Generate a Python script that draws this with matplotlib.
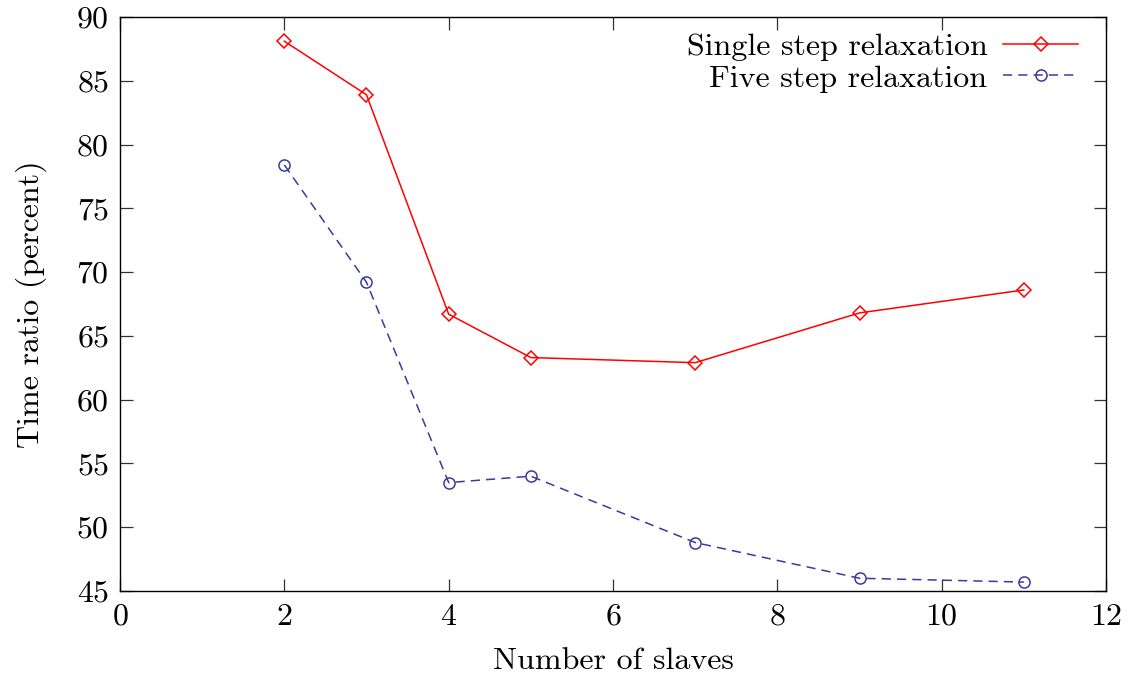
import matplotlib
matplotlib.use("Agg")
import matplotlib.pyplot as plt

# Measurements: relative run time versus number of slave processes
slaves = [2, 3, 4, 5, 7, 9, 11]
single_step = [88.1, 83.9, 66.7, 63.3, 62.9, 66.8, 68.6]
five_step = [78.4, 69.2, 53.5, 54.0, 48.8, 46.0, 45.7]

x_ticks = [0, 2, 4, 6, 8, 10, 12]
y_ticks = [45, 50, 55, 60, 65, 70, 75, 80, 85, 90]

plt.rcParams["font.family"] = ["cmr10", "DejaVu Serif"]
plt.rcParams["mathtext.fontset"] = "cm"
plt.rcParams["axes.formatter.use_mathtext"] = True

FS = 23

fig = plt.figure(figsize=(11.33, 6.79), dpi=100)
ax = fig.add_axes([0.1059, 0.1296, 0.9762 - 0.1059, 0.975 - 0.1296])

ax.plot(slaves, single_step, color="#ff0000", lw=1.1, marker="D",
        markersize=7.5, markerfacecolor="none", markeredgecolor="#ff0000",
        markeredgewidth=1.1, label="Single step relaxation")
ax.plot(slaves, five_step, color="#3a3a9e", lw=1.1, marker="o",
        markersize=8, markerfacecolor="none", markeredgecolor="#3a3a9e",
        markeredgewidth=1.1, dashes=(6, 4), label="Five step relaxation")

ax.set_xlim(0, 12)
ax.set_ylim(45, 90)
ax.set_xticks(x_ticks)
ax.set_yticks(y_ticks)
ax.tick_params(direction="in", length=9, width=0.9, top=True, right=True,
               labelsize=FS, color="#333333")
ax.tick_params(axis="y", pad=8)
ax.tick_params(axis="x", pad=9)
for s in ax.spines.values():
    s.set_linewidth(1.0)

ax.set_xlabel("Number of slaves", fontsize=FS, labelpad=12)
ax.set_ylabel("Time ratio (percent)", fontsize=FS, labelpad=21)

leg = ax.legend(loc="upper right", frameon=False, fontsize=FS,
                markerfirst=False, handlelength=2.35, handletextpad=0.5,
                labelspacing=0.1, borderaxespad=0.0,
                bbox_to_anchor=(0.985, 0.995))
for t in leg.get_texts():
    t.set_ha("right")

fig.savefig("out.png", dpi=100)
